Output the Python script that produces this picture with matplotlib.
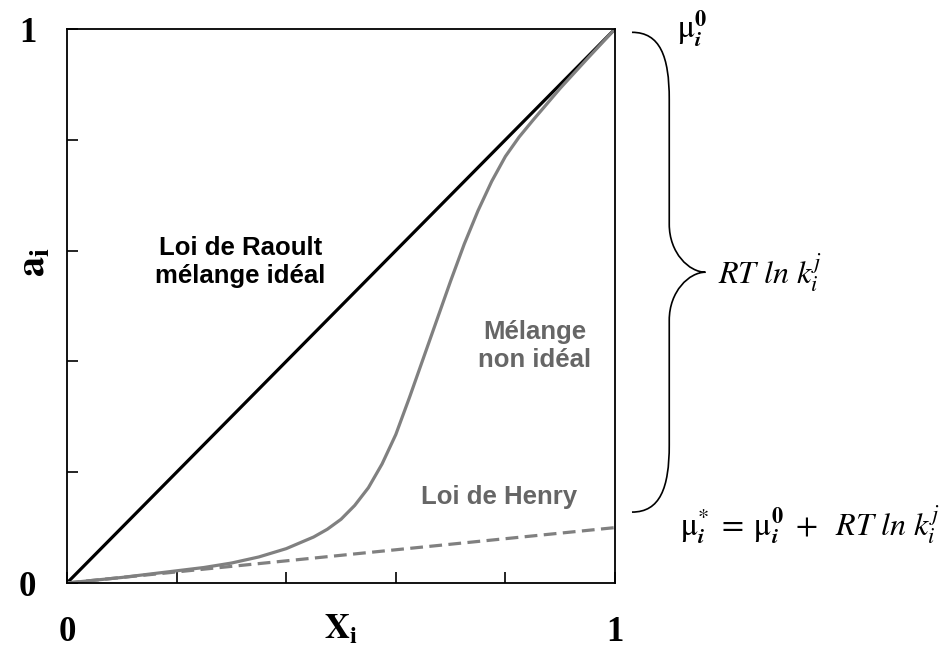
import numpy as np
import matplotlib
matplotlib.use("Agg")
import matplotlib.pyplot as plt
from matplotlib.path import Path
from matplotlib.patches import PathPatch

plt.rcParams['mathtext.fontset'] = 'stix'

# Mole fraction grid and activities
x_frac = [0.0, 0.05, 0.1, 0.15, 0.2, 0.25, 0.3, 0.35, 0.4, 0.45, 0.475, 0.5,
          0.525, 0.55, 0.575, 0.6, 0.625, 0.65, 0.675, 0.7, 0.725, 0.75,
          0.775, 0.8, 0.825, 0.85, 0.9, 0.95, 1.0]
a_real = [0.0, 0.005, 0.01, 0.016, 0.022, 0.028, 0.036, 0.047, 0.062, 0.083,
          0.097, 0.115, 0.14, 0.172, 0.215, 0.268, 0.335, 0.405, 0.475,
          0.545, 0.612, 0.672, 0.725, 0.77, 0.805, 0.835, 0.893, 0.947, 1.0]
x_raoult = [0.0, 1.0]
a_raoult = [0.0, 1.0]
henry_k = 0.1

gray = '#808080'
gray_txt = '#666666'

fig = plt.figure(figsize=(9.46, 6.54), dpi=100)
ax = fig.add_axes([67 / 946, 71 / 654, 548 / 946, 554 / 654])

ax.plot(x_raoult, a_raoult, color='black', lw=2.3, solid_capstyle='butt')
ax.plot(x_frac, [henry_k * v for v in x_frac], color=gray, lw=2.3,
        dashes=(4, 2))
ax.plot(x_frac, a_real, color=gray, lw=2.3, solid_joinstyle='round')

ax.set_xlim(0, 1)
ax.set_ylim(0, 1)
ax.set_xticks([0, 0.2, 0.4, 0.6, 0.8, 1])
ax.set_yticks([0, 0.2, 0.4, 0.6, 0.8, 1])
ax.set_xticklabels(['0', '', '', '', '', '1'])
ax.set_yticklabels(['0', '', '', '', '', '1'])
ax.tick_params(direction='in', length=8, width=1.2)
ax.tick_params(axis='x', pad=24)
ax.tick_params(axis='y', pad=22)
for lab in ax.get_xticklabels() + ax.get_yticklabels():
    lab.set_fontfamily('Liberation Serif')
    lab.set_fontweight('bold')
    lab.set_fontsize(25)
for s in ax.spines.values():
    s.set_linewidth(1.3)

ax.text(0.50, -0.083, r'$\mathbf{X_i}$', transform=ax.transAxes,
        ha='center', va='center', fontsize=25)
ax.text(-0.062, 0.58, r'$\mathbf{a_i}$', transform=ax.transAxes,
        ha='center', va='center', fontsize=29, rotation=90)

lbl = dict(family='Liberation Sans', weight='bold', fontsize=18.5,
           ha='center', va='center', linespacing=1.2)
ax.text(0.316, 0.579, 'Loi de Raoult\nmélange idéal', color='black', **lbl)
ax.text(0.854, 0.428, 'Mélange\nnon idéal', color=gray_txt, **lbl)
ax.text(0.788, 0.155, 'Loi de Henry', color=gray_txt, **lbl)


def curly_brace(ax, x0, y_top, y_bot, w1, w2):
    # right-facing brace between y_top and y_bot, starting at x0
    ym = (y_top + y_bot) / 2
    xa = x0 + w1
    xt = xa + w2
    h = y_top - y_bot
    verts = [
        (x0, y_top), (x0 + 0.75 * w1, y_top), (xa, y_top - 0.05 * h), (xa, y_top - 0.14 * h),
        (xa, ym + 0.10 * h),
        (xa, ym + 0.04 * h), (xa + 0.55 * w2, ym), (xt, ym),
        (xa + 0.55 * w2, ym), (xa, ym - 0.04 * h), (xa, ym - 0.10 * h),
        (xa, y_bot + 0.14 * h),
        (xa, y_bot + 0.05 * h), (x0 + 0.75 * w1, y_bot), (x0, y_bot),
    ]
    codes = [Path.MOVETO, Path.CURVE4, Path.CURVE4, Path.CURVE4,
             Path.LINETO,
             Path.CURVE4, Path.CURVE4, Path.CURVE4,
             Path.CURVE4, Path.CURVE4, Path.CURVE4,
             Path.LINETO,
             Path.CURVE4, Path.CURVE4, Path.CURVE4]
    ax.add_patch(PathPatch(Path(verts, codes), fill=False, lw=1.2,
                           edgecolor='black', clip_on=False,
                           transform=ax.transAxes))


curly_brace(ax, 1.031, 0.994, 0.128, 0.068, 0.066)

ax.text(1.1405, 1.0, r'$\mathrm{\mu}_{\boldsymbol{i}}^{\mathbf{0}}$',
        transform=ax.transAxes, ha='center', va='center', fontsize=23)
ax.text(1.188, 0.56, r'$RT\ ln\ k_i^j$', transform=ax.transAxes,
        ha='left', va='center', fontsize=23)
ax.text(1.1186, 0.105,
        r'$\mathrm{\mu}_{\boldsymbol{i}}^{*} \;=\; \mathrm{\mu}_{\boldsymbol{i}}^{\mathbf{0}} \;+\;\ RT\ ln\ k_i^j$',
        transform=ax.transAxes, ha='left', va='center', fontsize=23)

fig.savefig('out.png', dpi=100)
